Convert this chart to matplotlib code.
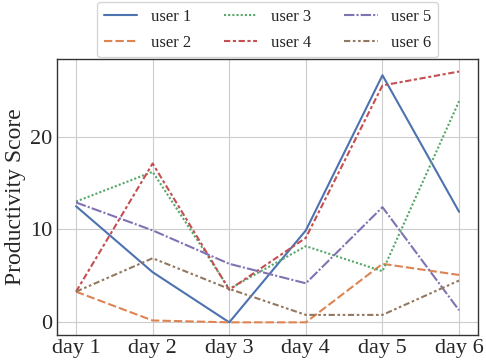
import matplotlib
matplotlib.use('Agg')
import numpy as np
import matplotlib.pyplot as plt
import seaborn as sns

days = ['day 1', 'day 2', 'day 3', 'day 4', 'day 5', 'day 6']
users = ['user 1', 'user 2', 'user 3', 'user 4', 'user 5', 'user 6']
user1 = [12.5, 5.4, 0.0, 9.9, 26.6, 11.9]
user2 = [3.3, 0.2, 0.0, 0.0, 6.3, 5.1]
user3 = [13.0, 16.2, 3.6, 8.2, 5.5, 23.8]
user4 = [3.3, 17.1, 3.5, 9.1, 25.5, 27.0]
user5 = [12.9, 9.9, 6.3, 4.2, 12.4, 1.3]
user6 = [3.3, 6.9, 3.6, 0.8, 0.8, 4.5]
scores = [user1, user2, user3, user4, user5, user6]

sns.set_style('whitegrid')
plt.rcParams['font.family'] = ['Liberation Serif', 'DejaVu Serif']

colors = sns.color_palette('deep', 6)
dashes = [(None, None), (4, 1.5), (1, 1), (3, 1.25, 1.5, 1.25), (5, 1, 1, 1),
          (3, 1.25, 1.25, 1.25, 1.25, 1.25)]

fig = plt.figure(figsize=(4.86, 3.64), dpi=100)
ax = fig.add_axes([0.117, 0.080, 0.867, 0.758])

x = np.arange(len(days))
for name, vals, c, d in zip(users, scores, colors, dashes):
    line, = ax.plot(x, vals, color=c, lw=1.5, label=name)
    if d[0] is not None:
        line.set_dashes(d)

ax.set_xticks(x)
ax.set_xticklabels(days, fontsize=16)
ax.set_yticks([0, 10, 20])
ax.tick_params(axis='y', labelsize=16)
ax.tick_params(length=0, pad=3)
ax.set_ylabel('Productivity Score', fontsize=17, labelpad=3)
for s in ax.spines.values():
    s.set_color('#333333')
    s.set_linewidth(1.0)

ax.legend(loc='lower center', bbox_to_anchor=(0.5, 1.0), ncol=3, fontsize=12,
          frameon=True, columnspacing=2.0, handlelength=2.0,
          handletextpad=0.8, borderaxespad=0.1, labelspacing=0.6)

fig.savefig('out.png', dpi=100)
